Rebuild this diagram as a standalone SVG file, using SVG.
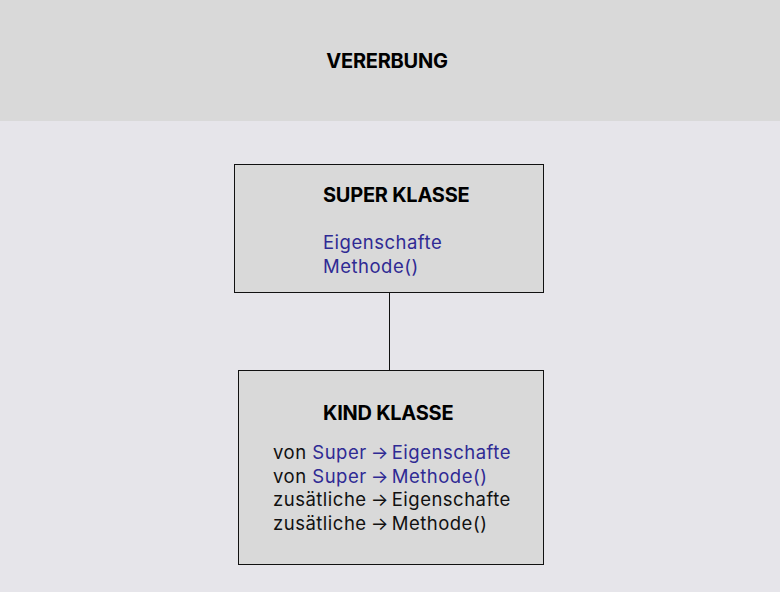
<svg xmlns="http://www.w3.org/2000/svg" width="780" height="592" viewBox="0 0 780 592">
<style>
.t{font-family:Inter,"Noto Sans","Liberation Sans",sans-serif;font-weight:700;font-size:20px;fill:#000;letter-spacing:-0.25px}
.b{font-family:Inter,"Noto Sans","Liberation Sans",sans-serif;font-size:18.5px;fill:#111;letter-spacing:0.5px}
.a{letter-spacing:-1px}
.blue{fill:#2f2a94}
.box{fill:#d9d9d9;stroke:#111;stroke-width:1}
.conn{stroke:#111;stroke-width:1;fill:none}
</style>
<rect x="0" y="0" width="780" height="592" fill="#e6e5ea"/>
<rect x="0" y="0" width="780" height="121" fill="#d9d9d9"/>
<text class="t" x="387" y="68" text-anchor="middle">VERERBUNG</text>
<g id="connectors">
<line class="conn" x1="389.5" y1="292" x2="389.5" y2="370"/>
</g>
<g id="super">
<rect class="box" x="234.5" y="164.5" width="309" height="128"/>
<text class="t" x="323" y="202">SUPER KLASSE</text>
<text class="b blue" x="323" y="249">Eigenschafte</text>
<text class="b blue" x="323" y="273">Methode()</text>
</g>
<g id="kind">
<rect class="box" x="238.5" y="370.5" width="305" height="194"/>
<text class="t" x="323" y="420">KIND KLASSE</text>
<text class="b" x="273" y="459">von <tspan class="blue">Super<tspan class="a"> → </tspan>Eigenschafte</tspan></text>
<text class="b" x="273" y="483">von <tspan class="blue">Super<tspan class="a"> → </tspan>Methode()</tspan></text>
<text class="b" x="273" y="506">zusätliche<tspan class="a"> → </tspan>Eigenschafte</text>
<text class="b" x="273" y="530">zusätliche<tspan class="a"> → </tspan>Methode()</text>
</g>
</svg>
